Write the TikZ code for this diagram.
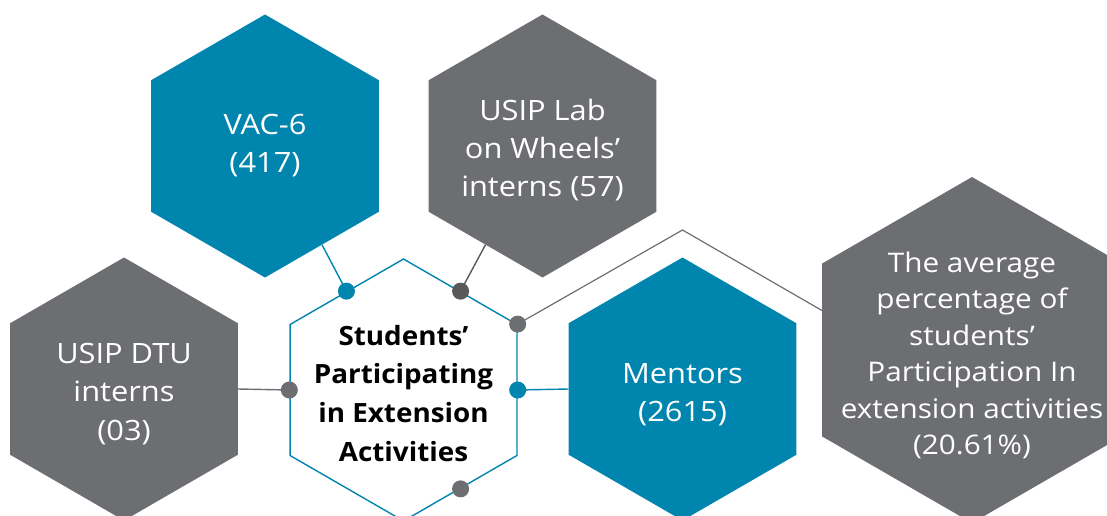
\documentclass[tikz,border=0pt]{standalone}
\usepackage{fontspec}
\setmainfont{Open Sans}
\newfontfamily\wfont[FakeStretch=1.1]{Open Sans}
\newfontfamily\bfont[FakeStretch=1.05]{Open Sans}
\usetikzlibrary{shapes.geometric,backgrounds}
\definecolor{hexblue}{RGB}{0,133,174}
\definecolor{hexgray}{RGB}{109,110,113}
\definecolor{dotdark}{RGB}{88,89,91}
\tikzset{
  hexa/.style={regular polygon, regular polygon sides=6, shape border rotate=90,
    inner sep=0pt, minimum size=#1, draw=none},
  bluehex/.style={hexa=263pt, fill=hexblue},
  grayhex/.style={hexa=263pt, fill=hexgray},
  wtext/.style={text=white, align=center, inner sep=0pt,
    font=\wfont\fontsize{28}{38.3}\selectfont,
    execute at begin node=\strut, execute at end node=\strut},
  wtextsmall/.style={wtext, font=\wfont\fontsize{27}{36.5}\selectfont},
  btext/.style={text=black, align=center, inner sep=0pt,
    font=\bfont\fontsize{26.5}{38.8}\selectfont\bfseries,
    execute at begin node=\strut, execute at end node=\strut},
  dot/.style={circle, inner sep=0pt, minimum size=17pt, fill=#1},
  conn/.style={line width=1.4pt, draw=#1},
}
\begin{document}
\begin{tikzpicture}[x=1pt, y=-1pt]
\useasboundingbox (0,0) rectangle (1107,516);
\clip (0,0) rectangle (1107,516);

% hexagons
\node[bluehex] (vac) at (265,146) {};
\node[grayhex] (lab) at (542.5,146) {};
\node[grayhex] (dtu) at (124,389) {};
\node[bluehex] (ment) at (682.5,389) {};
\node[hexa=262pt, draw=hexblue, line width=1.4pt, fill=white] (mid) at (403.5,390) {};
\node[hexa=346pt, fill=hexgray] (avg) at (972,350) {};

% dots
\node[dot=hexblue] (d1) at (mid.120) {};
\node[dot=dotdark] (d2) at (mid.60) {};
\node[dot=hexgray] (d3) at (mid.30) {};
\node[dot=hexgray] (d4) at (mid.180) {};
\node[dot=hexblue] (d5) at (mid.0) {};
\node[dot=hexgray] (d6) at (mid.-60) {};

% connector bends around Mentors
\coordinate (bendA) at (682.5,230);
\coordinate (bendB) at (822.3,310.7);

% connectors
\begin{scope}[on background layer]
\draw[conn=hexblue] (vac.-60) -- (d1.center);
\draw[conn=dotdark] (lab.-120) -- (d2.center);
\draw[conn=hexgray, line width=1.2pt] (d3.center) -- (bendA) -- (bendB);
\draw[conn=hexgray] (dtu.0) -- (d4.center);
\draw[conn=hexblue] (d5.center) -- (ment.180);
\end{scope}

% texts
\node[wtext] (tvac) at (265,148.8) {VAC-6\\(417)};
\node[wtext] (tlab) at (542.5,153.8) {USIP Lab\\on Wheels’\\interns (57)};
\node[wtext] (tdtu) at (124,397.5) {USIP DTU\\interns\\(03)};
\node[wtext] (tment) at (682.5,398.5) {Mentors\\(2615)};
\node[wtextsmall] (tavg) at (972,358.8) {The average\\percentage of\\students’\\Participation In\\extension activities\\(20.61\%)};
\node[btext] (tmid) at (403.5,399) {Students’\\Participating\\in Extension\\Activities};
\end{tikzpicture}
\end{document}
